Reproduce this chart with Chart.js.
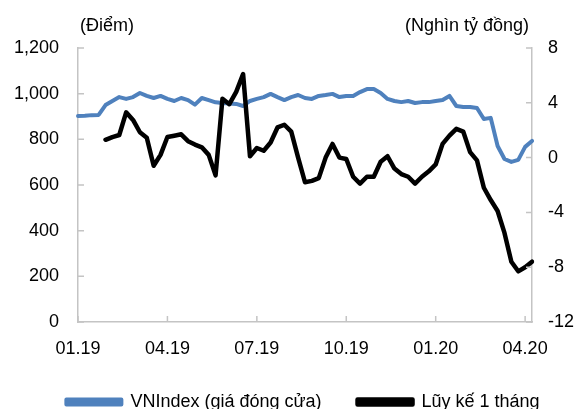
<!DOCTYPE html>
<html><head><meta charset="utf-8">
<script src="https://cdn.jsdelivr.net/npm/chart.js@4/dist/chart.umd.min.js"></script>
<style>html,body{margin:0;padding:0;overflow:hidden;background:#fff}canvas{display:block}</style>
</head><body><canvas id="c" width="580" height="421"></canvas>
<script>
// Weekly observation dates (dd.mm.yy)
const weeks = [
 '04.01.19','11.01.19','18.01.19','25.01.19','01.02.19','08.02.19','15.02.19','22.02.19',
 '01.03.19','08.03.19','15.03.19','22.03.19','29.03.19','05.04.19','12.04.19','19.04.19',
 '26.04.19','03.05.19','10.05.19','17.05.19','24.05.19','31.05.19','07.06.19','14.06.19',
 '21.06.19','28.06.19','05.07.19','12.07.19','19.07.19','26.07.19','02.08.19','09.08.19',
 '16.08.19','23.08.19','30.08.19','06.09.19','13.09.19','20.09.19','27.09.19','04.10.19',
 '11.10.19','18.10.19','25.10.19','01.11.19','08.11.19','15.11.19','22.11.19','29.11.19',
 '06.12.19','13.12.19','20.12.19','27.12.19','03.01.20','10.01.20','17.01.20','24.01.20',
 '31.01.20','07.02.20','14.02.20','21.02.20','28.02.20','06.03.20','13.03.20','20.03.20',
 '27.03.20','03.04.20','10.04.20'
];
// VNIndex closing price (points) - left axis
const vnindex = [
 902,903,906,907,950,968,985,977,
 985,1003,990,981,990,977,968,981,
 972,952,981,972,962,959,957,955,
 946,968,977,985,999,985,972,985,
 994,981,977,990,994,999,985,990,
 990,1007,1020,1020,1003,977,968,963,
 968,959,963,963,968,972,990,946,
 942,942,937,889,894,771,714,701,
 710,767,793
];
// Cumulative 1-month net flow (thousand billion VND) - right axis
const luyKe = [
 null,null,null,null,1.3,1.5,1.65,3.3,
 2.75,1.85,1.45,-0.6,0.2,1.5,1.6,1.7,
 1.2,0.95,0.75,0.2,-1.3,4.3,3.9,4.8,
 6.1,0.1,0.7,0.5,1.1,2.2,2.4,1.9,
 0.0,-1.8,-1.7,-1.5,0.0,1.0,0.0,-0.1,
 -1.4,-1.9,-1.4,-1.4,-0.3,0.1,-0.8,-1.2,
 -1.4,-1.9,-1.4,-1.0,-0.5,1.0,1.6,2.1,
 1.9,0.4,-0.2,-2.2,-3.1,-3.9,-5.5,-7.6,
 -8.3,-8.0,-7.6
];
const tickLabels = ['01.19','04.19','07.19','10.19','01.20','04.20'];
const seriesNames = ['VNIndex (giá đóng cửa)', 'Lũy kế 1 tháng'];
const leftTitle = '(Điểm)';
const rightTitle = '(Nghìn tỷ đồng)';

const FONT = '"Liberation Sans", Arial, sans-serif';
const FS = 18;
const AXIS = '#c4c4c4';
const LEGEND_SHIFT = 13;
Chart.defaults.font.family = FONT;
Chart.defaults.font.size = FS;
Chart.defaults.color = '#000';

function tickText(i){
  const mmyy = weeks[i].slice(3);
  const prev = i > 0 ? weeks[i-1].slice(3) : null;
  return (tickLabels.includes(mmyy) && prev !== mmyy) ? mmyy : '';
}

const axisDeco = {
  id: 'axisDeco',
  afterLayout(chart){
    const lg = chart.legend;
    if (lg) { lg.left += LEGEND_SHIFT; lg.right += LEGEND_SHIFT; }
  },
  afterDraw(chart){
    const ctx = chart.ctx, a = chart.chartArea;
    const yl = chart.scales.y, yr = chart.scales.y1, x = chart.scales.x;
    ctx.save();
    ctx.strokeStyle = AXIS; ctx.lineWidth = 1.5;
    ctx.beginPath();
    yl.ticks.forEach((t,i)=>{ const p = yl.getPixelForTick(i); ctx.moveTo(a.left,p); ctx.lineTo(a.left+6,p); });
    yr.ticks.forEach((t,i)=>{ const p = yr.getPixelForTick(i); ctx.moveTo(a.right,p); ctx.lineTo(a.right-6,p); });
    x.ticks.forEach((t,i)=>{ if (tickText(t.value)) { const p = x.getPixelForTick(i); ctx.moveTo(p,a.bottom); ctx.lineTo(p,a.bottom-6); } });
    ctx.stroke();
    ctx.fillStyle = '#000';
    ctx.font = FS + 'px ' + FONT;
    ctx.textAlign = 'center'; ctx.textBaseline = 'middle';
    ctx.fillText(leftTitle, a.left + 29, 26);
    ctx.fillText(rightTitle, a.right - 65, 26);
    ctx.restore();
  }
};

new Chart(document.getElementById('c'), {
  type: 'line',
  data: {
    labels: weeks,
    datasets: [
      { label: seriesNames[0], data: vnindex, yAxisID: 'y', borderColor: '#4F81BD', backgroundColor: '#4F81BD',
        borderWidth: 4, pointRadius: 0, tension: 0, borderJoinStyle: 'round', borderCapStyle: 'round', order: 1 },
      { label: seriesNames[1], data: luyKe, yAxisID: 'y1', borderColor: '#000', backgroundColor: '#000',
        borderWidth: 4.5, pointRadius: 0, tension: 0, borderJoinStyle: 'round', borderCapStyle: 'round', order: 0 }
    ]
  },
  options: {
    responsive: false, animation: false, devicePixelRatio: 1,
    layout: { padding: { top: 48, left: 0, right: 0, bottom: 0 } },
    plugins: {
      tooltip: { enabled: false },
      legend: {
        position: 'bottom',
        labels: { boxWidth: 55, boxHeight: 5, padding: 36, font: { size: FS }, color: '#000',
          sort: (a, b) => a.datasetIndex - b.datasetIndex }
      }
    },
    scales: {
      x: {
        type: 'category',
        grid: { display: true, drawOnChartArea: false, drawTicks: false },
        border: { color: AXIS, width: 1.5 },
        ticks: { autoSkip: false, maxRotation: 0, padding: 16, callback: (v, i) => tickText(i) },
        afterFit(s){ s.height = 35; }
      },
      y: {
        position: 'left', min: 0, max: 1200,
        grid: { display: true, drawOnChartArea: false, drawTicks: false },
        border: { color: AXIS, width: 1.5 },
        ticks: { stepSize: 200, padding: 19, callback: v => v.toLocaleString('en-US') },
        afterFit(s){ s.width = 78; }
      },
      y1: {
        position: 'right', min: -12, max: 8,
        grid: { display: true, drawOnChartArea: false, drawTicks: false },
        border: { color: AXIS, width: 1.5 },
        ticks: { stepSize: 4, padding: 16 },
        afterFit(s){ s.width = 48; }
      }
    }
  },
  plugins: [axisDeco]
});
</script>
</body></html>
